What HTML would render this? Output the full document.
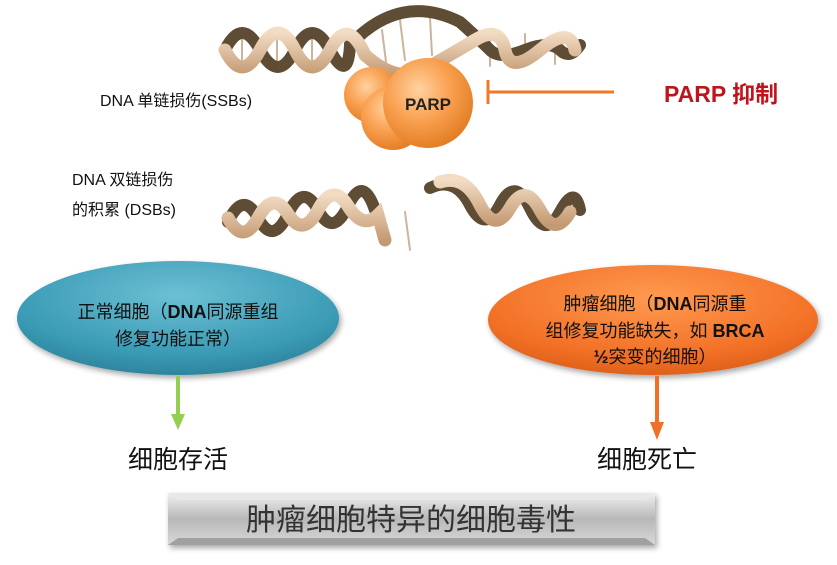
<!DOCTYPE html>
<html><head><meta charset="utf-8"><style>
html,body{margin:0;padding:0;background:#fff;}
svg{display:block;}
text{font-family:"Liberation Sans","Noto Sans CJK SC",sans-serif;}
</style></head><body>
<svg width="837" height="565" viewBox="0 0 837 565" xmlns="http://www.w3.org/2000/svg">
<defs>
<radialGradient id="sph" cx="0.4" cy="0.35" r="0.7">
<stop offset="0" stop-color="#ffd2a0"/><stop offset="0.5" stop-color="#f9a050"/><stop offset="1" stop-color="#e07a20"/>
</radialGradient>
<radialGradient id="blue" cx="0.5" cy="0.3" r="0.75">
<stop offset="0" stop-color="#6cc0d4"/><stop offset="0.7" stop-color="#3a9ab4"/><stop offset="1" stop-color="#2a7d96"/>
</radialGradient>
<radialGradient id="org" cx="0.5" cy="0.3" r="0.75">
<stop offset="0" stop-color="#ff9a50"/><stop offset="0.7" stop-color="#f27026"/><stop offset="1" stop-color="#d95c18"/>
</radialGradient>
<linearGradient id="box" x1="0" y1="0" x2="0" y2="1">
<stop offset="0" stop-color="#f0f0f0"/><stop offset="0.5" stop-color="#b8b8b8"/><stop offset="1" stop-color="#d8d8d8"/>
</linearGradient>
<linearGradient id="tan" x1="0" y1="0" x2="0" y2="1">
<stop offset="0" stop-color="#f2dcc4"/><stop offset="1" stop-color="#c49a72"/>
</linearGradient>
<filter id="sh" x="-10%" y="-10%" width="120%" height="130%"><feDropShadow dx="2" dy="3" stdDeviation="3" flood-opacity="0.35"/></filter>
</defs>

<!-- top helix -->
<g fill="none" stroke-linecap="round">
<g stroke="#ccb49a" stroke-width="2">
<line x1="242" y1="34" x2="242" y2="66"/><line x1="277" y1="34" x2="277" y2="66"/><line x1="312" y1="34" x2="312" y2="66"/>
<line x1="400" y1="20" x2="405" y2="60"/><line x1="430" y1="18" x2="432" y2="55"/><line x1="382" y1="30" x2="386" y2="62"/>
<line x1="490" y1="34" x2="490" y2="66"/><line x1="525" y1="34" x2="525" y2="66"/><line x1="555" y1="36" x2="555" y2="64"/>
</g>
<path d="M225,50 Q242,16 260,50 T295,50 T330,50 T350,45 Q400,-8 460,22 Q480,40 490,50 T525,50 T560,50 T580,45" stroke="#5e4c34" stroke-width="12"/>
<path d="M225,50 Q242,84 260,50 T295,50 T330,50 T365,55 Q395,82 420,72 Q450,55 475,40 T505,50 T540,50 T575,50" stroke="url(#tan)" stroke-width="13"/>
</g>

<!-- bottom left helix -->
<g fill="none" stroke-linecap="round">
<path d="M228,222 Q243,190 258,218 T288,214 T318,210 T348,206 T375,210" stroke="#5e4c34" stroke-width="12"/>
<path d="M228,218 Q243,246 258,218 T288,214 T318,210 T348,206 T378,215 L385,240" stroke="url(#tan)" stroke-width="13"/>
<line x1="405" y1="212" x2="410" y2="250" stroke="#ccb49a" stroke-width="2"/>
</g>
<!-- bottom right helix -->
<g fill="none" stroke-linecap="round">
<path d="M430,188 Q455,176 470,205 T500,205 T530,208 T560,212 T580,210" stroke="#5e4c34" stroke-width="12"/>
<path d="M440,182 Q465,174 480,205 Q495,234 510,208 T540,210 T570,212" stroke="url(#tan)" stroke-width="13"/>
</g>

<!-- PARP spheres -->
<circle cx="372" cy="95" r="28" fill="url(#sph)"/>
<circle cx="393" cy="118" r="32" fill="url(#sph)"/>
<circle cx="428" cy="103" r="45" fill="url(#sph)"/>
<text x="428" y="110" text-anchor="middle" font-size="17" font-weight="bold" fill="#222">PARP</text>

<!-- inhibition -->
<line x1="488" y1="80" x2="488" y2="104" stroke="#f07828" stroke-width="3"/>
<line x1="488" y1="92" x2="614" y2="92" stroke="#f07828" stroke-width="3"/>
<text x="664" y="102" font-size="23" font-weight="bold" fill="#c0141c">PARP 抑制</text>

<!-- labels -->
<text x="100" y="106" font-size="16" fill="#111">DNA 单链损伤(SSBs)</text>
<text x="72" y="185" font-size="16" fill="#111">DNA  双链损伤</text>
<text x="72" y="215" font-size="16" fill="#111">的积累  (DSBs)</text>

<!-- ellipses -->
<ellipse cx="178" cy="318" rx="161" ry="57" fill="url(#blue)" filter="url(#sh)"/>
<text x="178" y="318" text-anchor="middle" font-size="18" fill="#111">正常细胞（<tspan font-weight="bold">DNA</tspan>同源重组</text>
<text x="178" y="345" text-anchor="middle" font-size="18" fill="#111">修复功能正常）</text>

<ellipse cx="653" cy="320" rx="165" ry="55" fill="url(#org)" filter="url(#sh)"/>
<text x="655" y="310" text-anchor="middle" font-size="18" fill="#111">肿瘤细胞（<tspan font-weight="bold">DNA</tspan>同源重</text>
<text x="655" y="337" text-anchor="middle" font-size="18" fill="#111">组修复功能缺失，如 <tspan font-weight="bold">BRCA</tspan></text>
<text x="655" y="363" text-anchor="middle" font-size="18" fill="#111"><tspan font-weight="bold">½</tspan>突变的细胞）</text>

<!-- arrows -->
<line x1="178" y1="376" x2="178" y2="416" stroke="#92cf52" stroke-width="4"/>
<polygon points="171,414 185,414 178,430" fill="#92cf52"/>
<line x1="657" y1="376" x2="657" y2="424" stroke="#f07028" stroke-width="4"/>
<polygon points="650,422 664,422 657,440" fill="#f07028"/>

<text x="178" y="468" text-anchor="middle" font-size="25" fill="#111">细胞存活</text>
<text x="647" y="468" text-anchor="middle" font-size="25" fill="#111">细胞死亡</text>

<!-- bottom box -->
<rect x="168" y="493" width="487" height="52" fill="url(#box)" filter="url(#sh)"/>
<polygon points="168,493 655,493 645,500 178,500" fill="#e8e8e8"/>
<polygon points="168,545 655,545 645,538 178,538" fill="#a0a0a0"/>
<text x="411" y="530" text-anchor="middle" font-size="30" fill="#333">肿瘤细胞特异的细胞毒性</text>
</svg>
</body></html>
